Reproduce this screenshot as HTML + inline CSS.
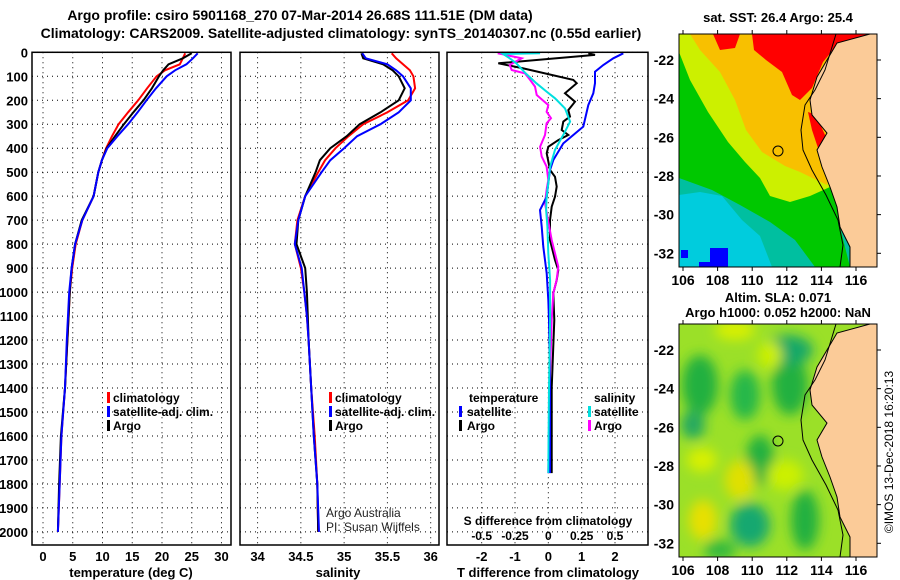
<!DOCTYPE html>
<html><head><meta charset="utf-8">
<style>
html,body{margin:0;padding:0;background:#fff;}
svg{display:block;font-family:"Liberation Sans",Arial,sans-serif;}
.b{font-weight:bold;font-size:13px;fill:#000;}
</style></head>
<body>
<svg id="chart" width="900" height="580" viewBox="0 0 900 580" xmlns="http://www.w3.org/2000/svg">
<defs><filter id="blur" x="-20%" y="-20%" width="140%" height="140%"><feGaussianBlur stdDeviation="6"/></filter>
<clipPath id="clipTop"><rect x="679" y="34" width="198" height="233"/></clipPath>
<clipPath id="clipBot"><rect x="679" y="324" width="198" height="233"/></clipPath></defs>
<text x="300" y="20" text-anchor="middle" class="b" style="font-size:14px">Argo profile: csiro 5901168_270 07-Mar-2014 26.68S 111.51E (DM data)</text>
<text x="341" y="38" text-anchor="middle" class="b" style="font-size:14px">Climatology: CARS2009. Satellite-adjusted climatology: synTS_20140307.nc (0.55d earlier)</text>
<g id="panels"></g>
<!-- top map -->
<g clip-path="url(#clipTop)">
<rect x="679" y="34" width="198" height="233" fill="#00bfa0"/>
<polygon fill="#00ccdd" points="679,195 700,192 722,196 742,220 760,236 772,267 679,267"/>
<polygon fill="#00c800" points="679,34 877,34 840,227 850,267 815,267 795,240 770,222 740,205 712,190 679,178"/>
<polygon fill="#ccf000" points="679,34 877,34 830,187 810,196 790,202 770,196 760,178 745,162 728,142 708,112 690,80 679,52"/>
<polygon fill="#f8c000" points="690,34 877,34 827,185 800,172 785,166 762,152 746,130 735,100 720,72 700,50"/>
<polygon fill="#ff0000" points="752,34 877,34 837,45 823,62 812,88 800,100 792,95 782,72 766,60 754,50"/>
<polygon fill="#ff0000" points="713,34 740,34 735,48 720,50"/>
<polygon fill="#ff0000" points="808,112 816,115 825,135 827,148 818,148 812,130"/>
<rect x="710" y="248" width="18" height="19" fill="#0000ff"/><rect x="699" y="262" width="12" height="5" fill="#0000ff"/><rect x="681" y="250" width="7" height="8" fill="#0000ff"/>
<polygon fill="#fbcb98" points="870,34 877,34 877,267 850,267 850,247 840,227 837,207 830,187 822,167 817,150 827,133 812,115 810,100 817,77 827,60 837,43"/>
<polyline fill="none" stroke="#000" stroke-width="1" points="870,34 837,43 827,60 817,77 810,100 812,115 827,133 817,150 822,167 830,187 837,207 840,227 850,247 850,267"/>
<polyline fill="none" stroke="#000" stroke-width="1" points="836,34 825,70 815,90 805,105 801,130 803,150 812,170 826,195 838,220 843,245 840,267"/>
<circle cx="778" cy="151" r="5" fill="none" stroke="#000" stroke-width="1"/>
</g>
<rect x="679" y="34" width="198" height="233" fill="none" stroke="#000" stroke-width="1"/>
<!-- bottom map -->
<g clip-path="url(#clipBot)">
<rect x="679" y="324" width="198" height="233" fill="#9be028"/>
<g filter="url(#blur)">
<ellipse cx="700" cy="385" rx="18" ry="30" fill="#20b040"/>
<ellipse cx="693" cy="425" rx="12" ry="14" fill="#20a860"/>
<ellipse cx="790" cy="385" rx="18" ry="30" fill="#20b040"/>
<ellipse cx="788" cy="350" rx="25" ry="15" fill="#18a868"/>
<ellipse cx="745" cy="395" rx="15" ry="25" fill="#28b848"/>
<ellipse cx="760" cy="460" rx="14" ry="25" fill="#20b040"/>
<ellipse cx="750" cy="525" rx="20" ry="22" fill="#18a870"/>
<ellipse cx="805" cy="520" rx="14" ry="30" fill="#20b040"/>
<ellipse cx="720" cy="550" rx="16" ry="10" fill="#30b840"/>
<ellipse cx="735" cy="330" rx="20" ry="10" fill="#d8f000"/>
<ellipse cx="740" cy="480" rx="15" ry="20" fill="#e0e000"/>
<ellipse cx="703" cy="520" rx="14" ry="20" fill="#e8e000"/>
<ellipse cx="702" cy="460" rx="15" ry="12" fill="#d8f000"/>
<ellipse cx="785" cy="475" rx="18" ry="15" fill="#ccf000"/>
<ellipse cx="770" cy="355" rx="12" ry="14" fill="#ccf000"/>
</g>
<polygon fill="#fbcb98" points="870,324 877,324 877,557 850,557 850,537 840,517 837,497 830,477 822,457 817,440 827,423 812,405 810,390 817,367 827,350 837,333"/>
<polyline fill="none" stroke="#000" stroke-width="1" points="870,324 837,333 827,350 817,367 810,390 812,405 827,423 817,440 822,457 830,477 837,497 840,517 850,537 850,557"/>
<polyline fill="none" stroke="#000" stroke-width="1" points="836,324 825,360 815,380 805,395 801,420 803,440 812,460 826,485 838,510 843,535 840,557"/>
<circle cx="778" cy="441" r="5" fill="none" stroke="#000" stroke-width="1"/>
</g>
<rect x="679" y="324" width="198" height="233" fill="none" stroke="#000" stroke-width="1"/>
<text x="778" y="22" text-anchor="middle" class="b" style="font-size:13px">sat. SST: 26.4 Argo: 25.4</text>
<text x="778" y="302" text-anchor="middle" class="b" style="font-size:13px">Altim. SLA: 0.071</text>
<text x="778" y="317" text-anchor="middle" class="b" style="font-size:13px">Argo h1000: 0.052 h2000: NaN</text>
<g id="mapaxes"></g>
<text transform="translate(893,452) rotate(-90)" text-anchor="middle" style="font-size:12px" fill="#000">©IMOS 13-Dec-2018 16:20:13</text>
</svg>
<script>
const NS="http://www.w3.org/2000/svg";
// depths (dbar)
const tDepth=[4,25,50,75,100,150,200,250,300,350,400,450,500,600,700,800,900,1000,1100,1200,1400,1600,1800,2000];
const tArgo=[25.0,23.5,21.1,20.2,19.5,18.3,16.9,15.2,13.6,12.1,10.7,9.9,9.3,8.5,6.5,5.4,4.8,4.5,4.3,4.1,3.7,3.0,2.7,2.5];
const tClim=[23.9,23.5,23.0,20.5,19.1,17.5,16.0,14.3,12.7,11.6,10.6,9.9,9.3,8.5,6.6,5.5,4.9,4.5,4.3,4.1,3.7,3.1,2.8,2.5];
const tSat=[26.0,25.2,24.1,22.2,20.8,19.0,17.4,15.9,14.3,12.5,10.8,9.9,9.3,8.5,6.6,5.4,4.8,4.4,4.2,4.0,3.7,3.1,2.8,2.5];
const sArgo=[35.20,35.22,35.45,35.56,35.63,35.70,35.63,35.42,35.18,35.03,34.84,34.72,34.67,34.55,34.47,34.45,34.55,34.57,34.58,34.59,34.62,34.65,34.69,34.70];
const sClim=[35.55,35.60,35.68,35.76,35.80,35.82,35.74,35.50,35.22,35.05,34.90,34.78,34.70,34.55,34.46,34.43,34.50,34.54,34.57,34.59,34.62,34.66,34.69,34.70];
const sSat=[35.21,35.25,35.50,35.60,35.68,35.77,35.77,35.63,35.42,35.15,35.00,34.84,34.74,34.55,34.47,34.43,34.51,34.54,34.57,34.59,34.62,34.65,34.69,34.71];
const dTSatDepth=[4,25,53,81,129,171,220,310,345,380,449,491,546,602,658,727,811,922,1033,1116,1400,1755];
const dTSat=[2.25,1.95,1.65,1.40,1.40,1.35,1.20,1.05,0.75,0.45,0.15,0.05,0,-0.05,-0.25,-0.2,-0.15,-0.05,0,0.02,0.05,0.05];
const dTArgoDepth=[4,11,46,67,115,129,171,206,241,268,289,324,345,366,394,421,491,519,560,602,644,700,783,866,908,950,1005,1116,1400,1755];
const dTArgo=[1.2,1.4,-1.5,-0.75,0.75,0.85,0.5,0.8,0.6,0.65,0.45,0.4,0.6,0.3,0,-0.05,0.05,0.2,0.25,0.2,0.1,0.05,0.05,0.2,0.3,0.25,0.15,0.18,0.1,0.1];
const dSSatDepth=[4,7,25,46,88,129,164,192,234,289,331,407,477,546,602,657,727,838,950,1116,1400,1755];
const dSSat=[-0.062,-0.34,-0.29,-0.24,-0.17,-0.09,-0.013,0.05,0.125,0.163,0.125,0.05,0.013,0,-0.013,-0.017,-0.007,0,0.013,0.013,0.005,0];
const dSArgoDepth=[4,25,53,74,88,115,143,178,220,248,275,296,345,394,435,477,532,574,630,783,838,894,950,1005,1116,1400,1755];
const dSArgo=[-0.38,-0.2,-0.29,-0.275,-0.175,-0.137,-0.1,-0.087,0,-0.013,0.02,-0.013,-0.025,-0.062,-0.05,-0.013,0,-0.013,-0.025,0.025,0.05,0.075,0.062,0.037,0.025,0.01,0];
const depthTicks=[0,100,200,300,400,500,600,700,800,900,1000,1100,1200,1300,1400,1500,1600,1700,1800,1900,2000];
const tTicks=[0,5,10,15,20,25,30];
const sTicks=[34,34.5,35,35.5,36];
const dTTicks=[-2,-1,0,1,2];
const dSTicks=["-0.5","-0.25","0","0.25","0.5"];
const lonTicks=[106,108,110,112,114,116];
const latTicks=[-22,-24,-26,-28,-30,-32];

const TOP=52.3,BOT=545;
function yD(d){return TOP+d*0.2398;}
function el(tag,attrs,parent,txt){const e=document.createElementNS(NS,tag);for(const k in attrs)e.setAttribute(k,attrs[k]);if(txt!==undefined)e.textContent=txt;parent.appendChild(e);return e;}
const root=document.getElementById('panels');
const P=[{x0:32,x1:231,lo:-1.85,hi:31.6},{x0:240,x1:439,lo:33.797,hi:36.096},{x0:447,x1:648,lo:-3.04,hi:2.99}];
function xf(p,v){return p.x0+(v-p.lo)/(p.hi-p.lo)*(p.x1-p.x0);}
function grid(p,ticks,name){
  const g=el('g',{},root);
  
  
  depthTicks.forEach(d=>{el('line',{x1:p.x0,x2:p.x1,y1:yD(d),y2:yD(d),stroke:'#000','stroke-width':1,'stroke-dasharray':'1,4'},g);});
  ticks.forEach(v=>{el('line',{x1:xf(p,v),x2:xf(p,v),y1:TOP,y2:BOT,stroke:'#000','stroke-width':1,'stroke-dasharray':'1,4'},g);});
}
function line(p,xs,ds,color,name){
  const pts=xs.map((v,i)=>xf(p,v).toFixed(1)+','+yD(ds[i]).toFixed(1)).join(' ');
  const e=el('polyline',{points:pts,fill:'none',stroke:color,'stroke-width':2},root);
  
  
}
function frame(p,name){const r=el('rect',{x:p.x0,y:TOP,width:p.x1-p.x0,height:BOT-TOP,fill:'none',stroke:'#000','stroke-width':1.5},root);
  
  }
function txt(x,y,s,anchor,name,extra){const t=el('text',Object.assign({x:x,y:y,'text-anchor':anchor||'start',class:'b'},extra||{}),root,s);
  
  return t;}
function legBar(x,y,color){el('rect',{x:x,y:y-10,width:3,height:11,fill:color},root);}

// Panel 1
grid(P[0],tTicks,'temperature-panel');
line(P[0],tClim,tDepth,'#ff0000','temp-climatology-line');
line(P[0],tArgo,tDepth,'#000000','temp-argo-line');
line(P[0],tSat,tDepth,'#0000ff','temp-satellite-line');
frame(P[0],'temperature-panel-frame');
depthTicks.forEach(d=>txt(28,yD(d)+5,String(d),'end','depth-tick-label'));
tTicks.forEach(v=>txt(xf(P[0],v),561,String(v),'middle','temp-tick-label'));
txt(131,577,'temperature (deg C)','middle','temp-axis-title');
legBar(107,402,'#ff0000');txt(113,402,'climatology','start','legend-climatology',{style:'font-size:12px'});
legBar(107,416,'#0000ff');txt(113,416,'satellite-adj. clim.','start','legend-satellite',{style:'font-size:12px'});
legBar(107,430,'#000');txt(113,430,'Argo','start','legend-argo',{style:'font-size:12px'});

// Panel 2
grid(P[1],sTicks,'salinity-panel');
line(P[1],sClim,tDepth,'#ff0000','sal-climatology-line');
line(P[1],sArgo,tDepth,'#000000','sal-argo-line');
line(P[1],sSat,tDepth,'#0000ff','sal-satellite-line');
frame(P[1],'salinity-panel-frame');
sTicks.forEach(v=>txt(xf(P[1],v),561,String(v),'middle','sal-tick-label'));
txt(338,577,'salinity','middle','sal-axis-title');
legBar(329,402,'#ff0000');txt(335,402,'climatology','start','legend-climatology-2',{style:'font-size:12px'});
legBar(329,416,'#0000ff');txt(335,416,'satellite-adj. clim.','start','legend-satellite-2',{style:'font-size:12px'});
legBar(329,430,'#000');txt(335,430,'Argo','start','legend-argo-2',{style:'font-size:12px'});
txt(326,517,'Argo Australia','start','credit-line-1',{class:'',style:'font-size:12px',fill:'#222'});
txt(326,531,'PI: Susan Wijffels','start','credit-line-2',{class:'',style:'font-size:12px',fill:'#222'});

// Panel 3
grid(P[2],dTTicks,'difference-panel');
const PS={x0:P[2].x0,x1:P[2].x1,lo:P[2].lo*0.25,hi:P[2].hi*0.25};
line(P[2],dTArgo,dTArgoDepth,'#000000','tdiff-argo-line');
line(PS,dSArgo,dSArgoDepth,'#ff00ff','sdiff-argo-line');
line(P[2],dTSat,dTSatDepth,'#0000ff','tdiff-satellite-line');
line(PS,dSSat,dSSatDepth,'#00e0e0','sdiff-satellite-line');
frame(P[2],'difference-panel-frame');
dTTicks.forEach(v=>txt(xf(P[2],v),561,String(v),'middle','tdiff-tick-label'));
dSTicks.forEach(v=>txt(xf(PS,parseFloat(v)),540,v,'middle','sdiff-tick-label',{style:'font-size:12px'}));
txt(548,525,'S difference from climatology','middle','sdiff-axis-title',{style:'font-size:12px'});
txt(548,577,'T difference from climatology','middle','tdiff-axis-title');
txt(469,402,'temperature','start','legend-temperature-head',{style:'font-size:12px'});
txt(594,402,'salinity','start','legend-salinity-head',{style:'font-size:12px'});
legBar(459,416,'#0000ff');txt(467,416,'satellite','start','legend-t-satellite',{style:'font-size:12px'});
legBar(459,430,'#000');txt(467,430,'Argo','start','legend-t-argo',{style:'font-size:12px'});
legBar(588,416,'#00e0e0');txt(594,416,'satellite','start','legend-s-satellite',{style:'font-size:12px'});
legBar(588,430,'#ff00ff');txt(594,430,'Argo','start','legend-s-argo',{style:'font-size:12px'});

// map axes
const ma=document.getElementById('mapaxes');
[[34,267],[324,557]].forEach(([t,b],k)=>{
  lonTicks.forEach(v=>{const x=683+(v-106)*17.3;
    el('line',{x1:x,x2:x,y1:t-4,y2:t,stroke:'#000'},ma);
    el('line',{x1:x,x2:x,y1:b,y2:b+4,stroke:'#000'},ma);
    const e=el('text',{x:x,y:b+18,'text-anchor':'middle',class:'b',style:'font-size:14px'},ma,String(v));
    
    });
  latTicks.forEach(v=>{const y=(k?350:60)+(-22-v)*19.33;
    el('line',{x1:877,x2:881,y1:y,y2:y,stroke:'#000'},ma);
    const e=el('text',{x:674,y:y+5,class:'b','text-anchor':'end',style:'font-size:14px'},ma,String(v));
    
    });
});
</script>
</body></html>
